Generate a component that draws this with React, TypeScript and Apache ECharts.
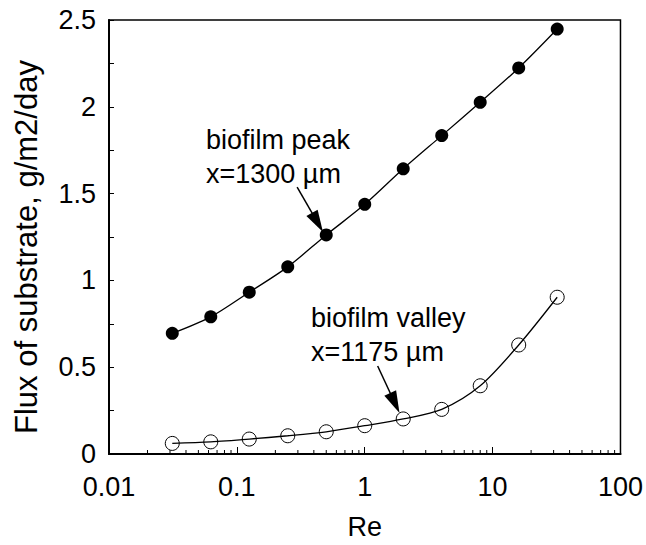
import React, { useEffect, useRef } from "react";
import * as echarts from "echarts";

const reValues = [0.03125, 0.0625, 0.125, 0.25, 0.5, 1, 2, 4, 8, 16, 32];
const peakFlux = [0.695, 0.79, 0.932, 1.078, 1.262, 1.438, 1.643, 1.834, 2.026, 2.224, 2.448];
const valleyFlux = [0.061, 0.07, 0.086, 0.105, 0.128, 0.163, 0.202, 0.257, 0.393, 0.628, 0.903];
const xTickLabels = ["0.01", "0.1", "1", "10", "100"];
const yTickLabels = ["0", "0.5", "1", "1.5", "2", "2.5"];
const peakArrow = [[0.296, 1.538], [0.427, 1.334]];
const valleyArrow = [[1.262, 0.507], [1.72, 0.294]];

const FONT = "'Liberation Sans', Arial, Helvetica, sans-serif";

export default function App() {
  const ref = useRef<HTMLDivElement>(null);
  useEffect(() => {
    if (!ref.current) return;
    const chart = echarts.init(ref.current, undefined, { renderer: "svg" });
    const minorTicks: number[][] = [];
    for (let e = -2; e < 2; e++) {
      for (let m = 2; m <= 9; m++) minorTicks.push([m * Math.pow(10, e), 0]);
    }
    const arrowLine = (pts: number[][]) => ({
      silent: true,
      animation: false,
      symbol: ["none", "triangle"],
      symbolSize: [13, 22],
      label: { show: false },
      lineStyle: { color: "#000", width: 1.5, type: "solid" },
      data: [[{ coord: pts[0] }, { coord: pts[1] }]],
    });
    chart.setOption({
      animation: false,
      backgroundColor: "#fff",
      grid: {
        left: 109,
        right: 23,
        top: 20,
        bottom: 91,
        show: true,
        borderColor: "#000",
        borderWidth: 1.5,
        backgroundColor: "transparent",
      },
      xAxis: {
        type: "log",
        logBase: 10,
        min: 0.01,
        max: 100,
        name: "Re",
        nameLocation: "middle",
        nameGap: 59,
        nameTextStyle: { fontFamily: FONT, fontSize: 27, color: "#000" },
        axisLine: { lineStyle: { color: "#000", width: 2 } },
        axisTick: { inside: true, length: 7, lineStyle: { color: "#000", width: 1 } },
        splitLine: { show: false },
        axisLabel: {
          fontFamily: FONT,
          fontSize: 27,
          color: "#000",
          margin: 19,
          formatter: (v: number) => {
            const s = xTickLabels.find((t) => Math.abs(parseFloat(t) - v) / v < 1e-6);
            return s ?? "";
          },
        },
      },
      yAxis: {
        type: "value",
        min: 0,
        max: 2.5,
        interval: 0.25,
        name: "Flux of substrate, g/m2/day",
        nameLocation: "middle",
        nameGap: 67,
        nameTextStyle: { fontFamily: FONT, fontSize: 31, color: "#000", padding: [0, 20, 0, 0] },
        axisLine: { show: true, lineStyle: { color: "#000", width: 2 } },
        axisTick: { show: true, inside: true, length: 5, lineStyle: { color: "#000", width: 1 } },
        splitLine: { show: false },
        axisLabel: {
          fontFamily: FONT,
          fontSize: 27,
          color: "#000",
          margin: 13,
          formatter: (v: number) => {
            const s = yTickLabels.find((t) => Math.abs(parseFloat(t) - v) < 1e-9);
            return s ?? "";
          },
        },
      },
      series: [
        {
          name: "biofilm peak",
          type: "line",
          data: reValues.map((x, i) => [x, peakFlux[i]]),
          smooth: 0.3,
          symbol: "circle",
          symbolSize: 13,
          itemStyle: { color: "#000" },
          lineStyle: { color: "#000", width: 1.3 },
          markLine: arrowLine(peakArrow),
          z: 3,
        },
        {
          name: "biofilm valley",
          type: "line",
          data: reValues.map((x, i) => [x, valleyFlux[i]]),
          smooth: 0.3,
          symbol: "circle",
          symbolSize: 14,
          itemStyle: { color: "transparent", borderColor: "#000", borderWidth: 1 },
          lineStyle: { color: "#000", width: 1.3 },
          markLine: arrowLine(valleyArrow),
          z: 3,
        },
        {
          type: "custom",
          silent: true,
          data: minorTicks,
          renderItem: (_params: any, api: any) => {
            const p = api.coord([api.value(0), api.value(1)]);
            return {
              type: "line",
              shape: { x1: p[0], y1: p[1], x2: p[0], y2: p[1] - 4 },
              style: { stroke: "#000", lineWidth: 1 },
            };
          },
          z: 4,
        },
      ],
      graphic: [
        {
          type: "text",
          left: 206,
          top: 123,
          style: {
            text: "biofilm peak\nx=1300 µm",
            font: `27px ${FONT}`,
            fill: "#000",
            lineHeight: 34,
          },
        },
        {
          type: "text",
          left: 311,
          top: 301,
          style: {
            text: "biofilm valley\nx=1175 µm",
            font: `27px ${FONT}`,
            fill: "#000",
            lineHeight: 34,
          },
        },
      ],
    });
    return () => chart.dispose();
  }, []);
  return (
    <div
      ref={ref}
      style={{ position: "fixed", left: 0, top: 0, width: 646, height: 545 }}
    />
  );
}
